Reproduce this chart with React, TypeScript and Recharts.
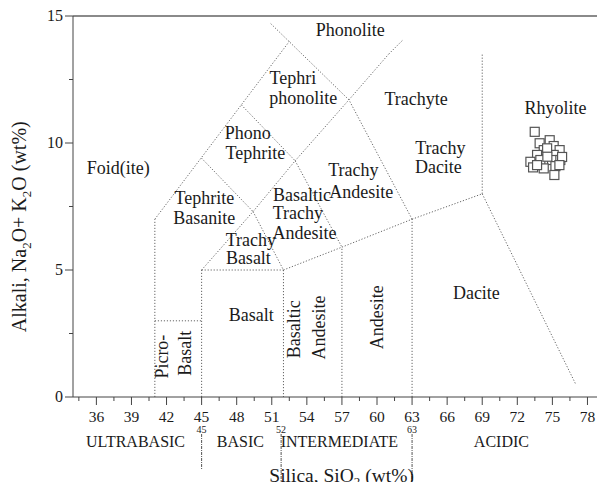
import React from 'react';
import { ScatterChart, Scatter, XAxis, YAxis, ReferenceLine } from 'recharts';

// sample analyses (SiO2 vs Na2O+K2O, wt%)
const silica = [73.49, 73.91, 74.77, 75.11, 75.62, 74.26, 73.69, 75.11, 74.55, 73.12, 73.97, 74.97, 75.68, 75.83, 73.35, 74.26, 75.26, 75.17, 73.69, 74.57, 75.6];
const alkali = [10.44, 9.99, 10.11, 9.88, 9.72, 9.72, 9.53, 9.53, 9.79, 9.26, 9.33, 9.33, 9.33, 9.45, 9.04, 9.0, 9.09, 8.74, 9.13, 9.46, 9.13];

// TAS field boundaries, each a polyline in (SiO2, alkali)
const boundaries: number[][][] = [
  [[41, 0], [41, 7], [52.5, 14]],
  [[41, 3], [45, 3]],
  [[45, 0], [45, 5], [52, 5], [52, 0]],
  [[52, 5], [57, 5.9], [63, 7], [69, 8], [77, 0.5]],
  [[57, 0], [57, 5.9]],
  [[63, 0], [63, 7], [57.6, 11.7], [50.8, 14.75]],
  [[69, 8], [69, 13.5]],
  [[45, 9.4], [49.4, 7.3], [52, 5]],
  [[48.4, 11.5], [53, 9.3], [57, 5.9]],
  [[45, 5], [49.4, 7.3], [53, 9.3], [57.6, 11.7], [61, 13.5], [62.2, 14.05]],
];

// field names: text, SiO2, alkali, vertical
const fieldLabels: [string, number, number, boolean][] = [
  ['Phonolite', 57.72, 14.45, false],
  ['Tephri', 52.8, 12.55, false],
  ['phonolite', 53.7, 11.77, false],
  ['Trachyte', 63.35, 11.72, false],
  ['Rhyolite', 75.26, 11.39, false],
  ['Phono', 48.95, 10.39, false],
  ['Tephrite', 49.59, 9.61, false],
  ['Trachy', 65.42, 9.79, false],
  ['Dacite', 65.25, 9.04, false],
  ['Foid(ite)', 37.88, 9.02, false],
  ['Trachy', 57.98, 8.94, false],
  ['Andesite', 58.66, 8.08, false],
  ['Tephrite', 45.23, 7.82, false],
  ['Basanite', 45.23, 7.04, false],
  ['Basaltic', 53.59, 7.95, false],
  ['Trachy', 53.23, 7.23, false],
  ['Andesite', 53.79, 6.47, false],
  ['Trachy', 49.21, 6.18, false],
  ['Basalt', 49.0, 5.46, false],
  ['Basalt', 49.25, 3.23, false],
  ['Dacite', 68.5, 4.11, false],
  ['Picro-', 41.61, 1.59, true],
  ['Basalt', 43.61, 1.72, true],
  ['Basaltic', 52.87, 2.67, true],
  ['Andesite', 55.01, 2.74, true],
  ['Andesite', 60.0, 3.14, true],
];

const xTicks = [34.5, 36, 37.5, 39, 40.5, 42, 43.5, 45, 46.5, 48, 49.5, 51, 52.5, 54, 55.5, 57, 58.5, 60, 61.5, 63, 64.5, 66, 67.5, 69, 70.5, 72, 73.5, 75, 76.5, 78];
const yTicks = [0, 2.5, 5, 7.5, 10, 12.5, 15];

const classNames = ['ULTRABASIC', 'BASIC', 'INTERMEDIATE', 'ACIDIC'];
const classCenters = [39.35, 48.31, 56.78, 70.64];
const classLimits = [45, 51.8, 63];
const classLimitEnds = [470, 485, 482];

const X_MIN = 34;
const X_MAX = 79.5;
const FONT = '"Liberation Serif", "Times New Roman", serif';
const INK = '#1a1a1a';
const AXIS = '#444';

const points = silica.map((x, i) => ({ x, y: alkali[i] }));
const labelPoints = fieldLabels.map(([text, x, y, vertical]) => ({ x, y, text, vertical }));

const XTick = (props: any) => {
  const { x, y, payload } = props;
  const major = payload.value % 3 === 0;
  return (
    <g>
      <line x1={x} y1={y} x2={x} y2={y + (major ? 8 : 4)} stroke={AXIS} />
      {major && (
        <text x={x} y={y + 25} textAnchor="middle" fontSize={15.5} fontFamily={FONT} fill={INK}>
          {payload.value}
        </text>
      )}
    </g>
  );
};

const YTick = (props: any) => {
  const { x, y, payload } = props;
  const major = payload.value % 5 === 0;
  return (
    <g>
      <line x1={x} y1={y} x2={x - (major ? 8 : 4)} y2={y} stroke={AXIS} />
      {major && (
        <text x={x - 10} y={y + 5} textAnchor="end" fontSize={16} fontFamily={FONT} fill={INK}>
          {payload.value}
        </text>
      )}
    </g>
  );
};

const XTitle = (props: any) => {
  const vb = props.viewBox || { x: 73, y: 397, width: 532, height: 93 };
  const px = (v: number) => vb.x + ((v - X_MIN) / (X_MAX - X_MIN)) * vb.width;
  const top = vb.y;
  return (
    <g fontFamily={FONT} fill={INK}>
      {classNames.map((n, i) => (
        <text key={n} x={px(classCenters[i])} y={top + 50} textAnchor="middle" fontSize={16}>
          {n}
        </text>
      ))}
      {classLimits.map((v, i) => (
        <g key={v}>
          <text x={px(v)} y={top + 36} textAnchor="middle" fontSize={10}>
            {Math.round(v)}
          </text>
          <line x1={px(v)} y1={top + 37} x2={px(v)} y2={classLimitEnds[i]} stroke="#555" strokeDasharray="3 1 1 1" />
        </g>
      ))}
      <text x={vb.x + vb.width * 0.505} y={top + 85} textAnchor="middle" fontSize={19.5}>
        Silica, SiO
        <tspan fontSize={13} dy={4}>2</tspan>
        <tspan dy={-4}> (wt%)</tspan>
      </text>
    </g>
  );
};

const YTitle = (props: any) => {
  const vb = props.viewBox || { x: 0, y: 16, width: 73, height: 381 };
  const cx = vb.x + 26;
  const cy = vb.y + vb.height * 0.553;
  return (
    <text x={cx} y={cy} transform={`rotate(-90 ${cx} ${cy})`} textAnchor="middle" fontSize={20} fontFamily={FONT} fill={INK}>
      Alkali, Na
      <tspan fontSize={13} dy={5}>2</tspan>
      <tspan dy={-5}>O+ K</tspan>
      <tspan fontSize={13} dy={5}>2</tspan>
      <tspan dy={-5}>O (wt%)</tspan>
    </text>
  );
};

const SampleSquare = (props: any) => {
  const { cx, cy } = props;
  return <rect x={cx - 4.5} y={cy - 4.5} width={9} height={9} fill="#fff" stroke="#555" strokeWidth={1.2} />;
};

const FieldName = (props: any) => {
  const { cx, cy, payload } = props;
  return (
    <text
      x={cx}
      y={cy}
      textAnchor="middle"
      dominantBaseline="central"
      fontSize={18}
      fontFamily={FONT}
      fill={INK}
      transform={payload.vertical ? `rotate(-90 ${cx} ${cy})` : undefined}
    >
      {payload.text}
    </text>
  );
};

export default function App() {
  return (
    <div style={{ margin: -8, width: 605, height: 490, background: '#fff', overflow: 'hidden' }}>
      <ScatterChart width={605} height={490} margin={{ top: 16, right: 0, bottom: 0, left: 0 }}>
        <XAxis
          type="number"
          dataKey="x"
          domain={[X_MIN, X_MAX]}
          ticks={xTicks}
          interval={0}
          tickSize={0}
          tickMargin={0}
          tick={<XTick />}
          height={93}
          axisLine={{ stroke: AXIS }}
          allowDataOverflow
          label={{ content: (p: any) => <XTitle {...p} /> }}
        />
        <YAxis
          type="number"
          dataKey="y"
          domain={[0, 15]}
          ticks={yTicks}
          interval={0}
          tickSize={0}
          tickMargin={0}
          tick={<YTick />}
          width={73}
          axisLine={{ stroke: AXIS }}
          label={{ content: (p: any) => <YTitle {...p} /> }}
        />
        <ReferenceLine y={15} stroke="#8a8a8a" strokeWidth={2} />
        {boundaries.flatMap((line, li) =>
          line.slice(1).map((pt, i) => (
            <ReferenceLine
              key={`b${li}-${i}`}
              segment={[
                { x: line[i][0], y: line[i][1] },
                { x: pt[0], y: pt[1] },
              ]}
              stroke="#666"
              strokeWidth={1}
              strokeDasharray="1.2 1.8"
              ifOverflow="visible"
            />
          ))
        )}
        <Scatter data={labelPoints} shape={<FieldName />} isAnimationActive={false} />
        <Scatter data={points} shape={<SampleSquare />} isAnimationActive={false} />
      </ScatterChart>
    </div>
  );
}
